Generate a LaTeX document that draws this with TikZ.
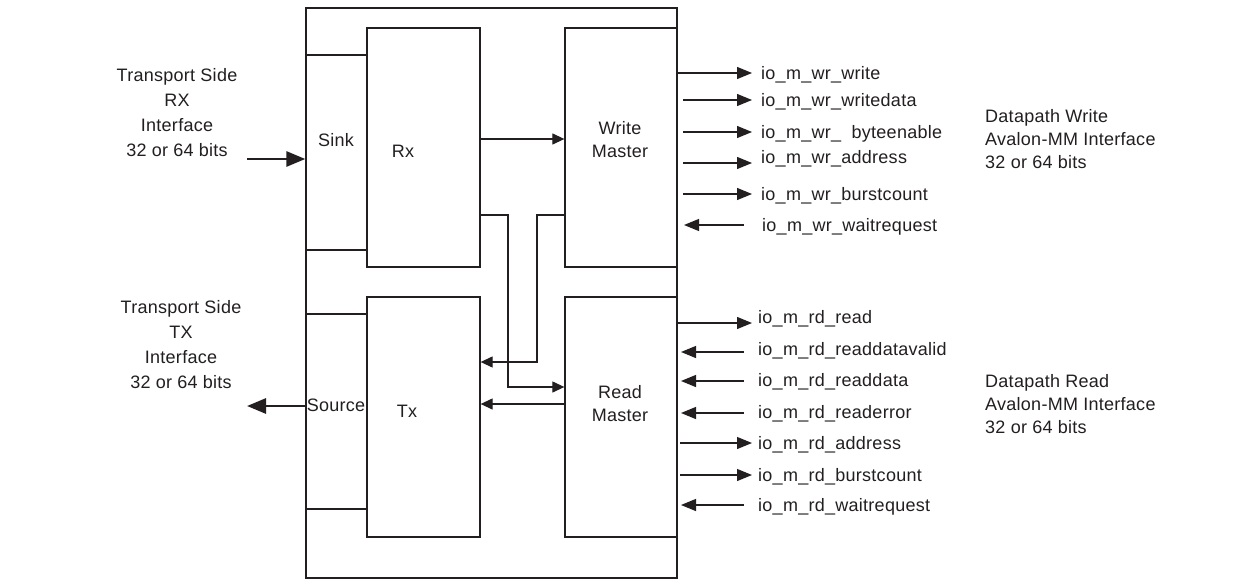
\documentclass[tikz,border=0pt]{standalone}
\usepackage{fontspec}
\setmainfont{Liberation Sans}[LetterSpace=1.5]
\usetikzlibrary{arrows.meta}
\definecolor{ink}{HTML}{231F20}
\begin{document}
\begin{tikzpicture}[x=1pt,y=-1pt,
  every node/.style={text=ink,font=\fontsize{18}{25}\selectfont},
  blk/.style={draw=ink,line width=1.3pt,inner sep=0pt,fill=none},
  conn/.style={draw=ink,line width=1.2pt,-{Triangle[length=12pt,width=11pt]}},
  sigout/.style={draw=ink,line width=1.2pt,-{Triangle[length=15pt,width=12pt]}},
  thick arr/.style={draw=ink,line width=2.8pt,-{Triangle[length=19pt,width=15pt]}},
  lbl/.style={anchor=base west,inner sep=0pt},
  side/.style={align=center,inner sep=0pt,font=\fontsize{18}{25}\selectfont},
  rside/.style={align=left,anchor=west,inner sep=0pt,font=\fontsize{18}{23}\selectfont}]
\useasboundingbox[fill=white] (0,0) rectangle (1257,586);

% blocks
\node[blk,minimum width=371pt,minimum height=570pt] (outer) at (491.5,293) {};
\node[blk,minimum width=61pt,minimum height=195pt] (sink) at (336.5,152.5) {};
\node[blk,minimum width=113pt,minimum height=239pt] (rx) at (423.5,147.5) {};
\node[blk,minimum width=112pt,minimum height=239pt] (wm) at (621,147.5) {};
\node[blk,minimum width=61pt,minimum height=195pt] (source) at (336.5,411.5) {};
\node[blk,minimum width=113pt,minimum height=240pt] (tx) at (423.5,417) {};
\node[blk,minimum width=112pt,minimum height=240pt] (rm) at (621,417) {};

% block labels
\node (sinkl) at (336,140) {Sink};
\node (rxl) at (403,151) {Rx};
\node[align=center,font=\fontsize{18}{23}\selectfont] (wml) at (620,140) {Write\\Master};
\node (sourcel) at (336,405) {Source};
\node (txl) at (407,411) {Tx};
\node[align=center,font=\fontsize{18}{23}\selectfont] (rml) at (620,404) {Read\\Master};

% internal connectors
\draw[conn] (rx.east |- 0,139) -- (wm.west |- 0,139);
\draw[conn] (rx.east |- 0,215) -- (508,215) -- (508,387) -- (rm.west |- 0,387);
\draw[conn] (wm.west |- 0,215) -- (537,215) -- (537,362) -- (tx.east |- 0,362);
\draw[conn] (rm.west |- 0,404) -- (tx.east |- 0,404);

% transport side
\node[side] (rxside) at (177,112.5) {Transport Side\\RX\\Interface\\32 or 64 bits};
\node[side] (txside) at (181,345) {Transport Side\\TX\\Interface\\32 or 64 bits};
\coordinate (rxin) at (247,159);
\coordinate (txout) at (247,406);
\draw[thick arr] (rxin) -- (sink.west |- rxin);
\draw[thick arr] (source.west |- txout) -- (txout);

% write signals
\coordinate (w1) at (752,73);
\draw[sigout] (wm.east |- w1) -- (w1);
\node[lbl] (s1) at (761,79) {io\_m\_wr\_write};
\draw[sigout] (683,100) -- (752,100);
\node[lbl] (s2) at (761,106) {io\_m\_wr\_writedata};
\draw[sigout] (683,132) -- (752,132);
\node[lbl] (s3) at (761,138) {io\_m\_wr\_\ \ byteenable};
\draw[sigout] (683,163) -- (752,163);
\node[lbl] (s4) at (761,163) {io\_m\_wr\_address};
\draw[sigout] (683,194) -- (752,194);
\node[lbl] (s5) at (761,200) {io\_m\_wr\_burstcount};
\draw[sigout] (744,225) -- (684,225);
\node[lbl] (s6) at (762,231) {io\_m\_wr\_waitrequest};

% read signals
\coordinate (r1) at (752,323);
\draw[sigout] (rm.east |- r1) -- (r1);
\node[lbl] (t1) at (758,323) {io\_m\_rd\_read};
\draw[sigout] (744,352) -- (681,352);
\node[lbl] (t2) at (758,355) {io\_m\_rd\_readdatavalid};
\draw[sigout] (744,381) -- (681,381);
\node[lbl] (t3) at (758,386) {io\_m\_rd\_readdata};
\draw[sigout] (744,413) -- (681,413);
\node[lbl] (t4) at (758,418) {io\_m\_rd\_readerror};
\draw[sigout] (680,443) -- (752,443);
\node[lbl] (t5) at (758,449) {io\_m\_rd\_address};
\draw[sigout] (680,475) -- (752,475);
\node[lbl] (t6) at (758,481) {io\_m\_rd\_burstcount};
\draw[sigout] (744,505) -- (681,505);
\node[lbl] (t7) at (758,511) {io\_m\_rd\_waitrequest};

% datapath labels
\node[rside] (dw) at (985,139) {Datapath Write\\Avalon-MM Interface\\32 or 64 bits};
\node[rside] (dr) at (985,404) {Datapath Read\\Avalon-MM Interface\\32 or 64 bits};
\end{tikzpicture}
\end{document}
